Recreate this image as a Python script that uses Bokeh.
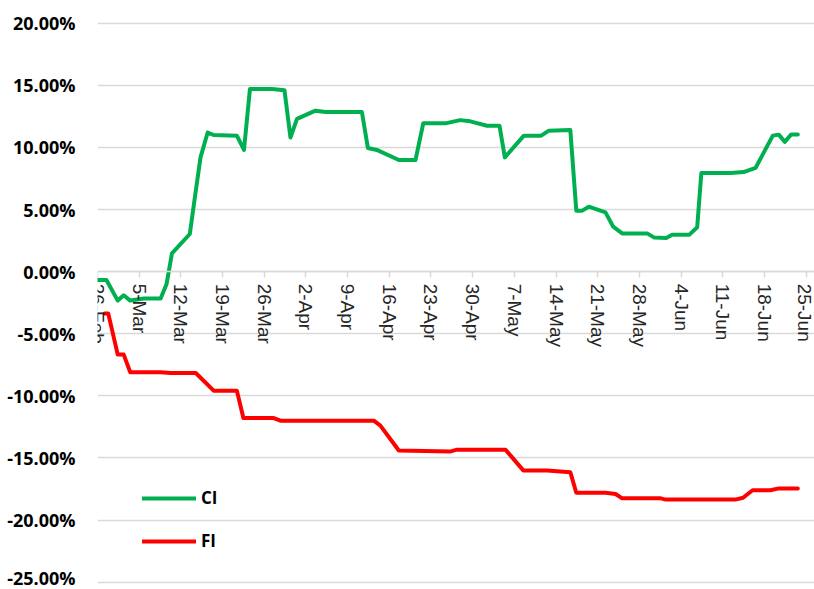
from bokeh.plotting import figure
from bokeh.models import Range1d, FixedTicker, Legend, LegendItem
from bokeh.embed import file_html
from bokeh.resources import INLINE

# ---- data (day offset from 26-Feb, value in %) ----
ci_day = [0, 1.5, 3.4, 4.4, 5.5, 7.8, 10.6, 11.6, 12.5, 15.5, 16.5, 17.3, 18.5, 19.5,
          23.4, 24.6, 25.6, 29.3, 31.4, 32.4, 33.5, 36.6, 38.3, 44.4, 45.4, 46.9,
          50.6, 53.4, 54.7, 58.4, 60.9, 62.6, 65.4, 67.5, 68.4, 71.6, 74.5, 75.8,
          79.4, 80.4, 81.4, 82.5, 85.3, 86.6, 88.1, 92.3, 93.5, 95.5, 96.5, 99.4,
          100.7, 101.4, 106.3, 108.5, 110.5, 113.4, 114.4, 115.4, 116.5, 117.6]
ci_val = [-0.67, -0.67, -2.33, -1.9, -2.33, -2.17, -2.17, -1.0, 1.47, 3.03, 6.5, 9.2, 11.2, 11.0,
          10.95, 9.8, 14.7, 14.7, 14.6, 10.8, 12.3, 12.96, 12.85, 12.85, 9.96, 9.8,
          8.99, 8.99, 11.94, 11.94, 12.2, 12.1, 11.75, 11.75, 9.2, 10.95, 10.95, 11.35,
          11.4, 4.91, 4.91, 5.23, 4.77, 3.62, 3.08, 3.08, 2.74, 2.71, 2.98, 2.98,
          3.57, 7.95, 7.95, 8.02, 8.35, 10.95, 11.03, 10.45, 11.05, 11.05]

fi_day = [1.2, 1.8, 3.4, 4.4, 5.5, 10.6, 12.3, 16.5, 19.5, 23.4, 24.5, 29.5, 30.7, 46.4,
          47.5, 50.6, 59.3, 60.4, 68.5, 71.5, 75.5, 79.4, 80.4, 85.3, 87.0, 88.1,
          94.6, 95.4, 107.1, 108.4, 110.0, 113.0, 114.4, 117.6]
fi_val = [-3.36, -3.36, -6.68, -6.68, -8.1, -8.1, -8.16, -8.16, -9.58, -9.58, -11.78, -11.78, -12.0, -12.0,
          -12.4, -14.4, -14.47, -14.33, -14.33, -16.0, -16.0, -16.15, -17.8, -17.8, -17.9, -18.25,
          -18.25, -18.35, -18.35, -18.2, -17.6, -17.6, -17.45, -17.45]

tick_days = [0, 7, 14, 21, 28, 35, 42, 49, 56, 63, 70, 77, 84, 91, 98, 105, 112, 119]
tick_labels = ["26-Feb", "5-Mar", "12-Mar", "19-Mar", "26-Mar", "2-Apr", "9-Apr", "16-Apr",
               "23-Apr", "30-Apr", "7-May", "14-May", "21-May", "28-May", "4-Jun", "11-Jun",
               "18-Jun", "25-Jun"]
y_ticks = [-25, -20, -15, -10, -5, 0, 5, 10, 15, 20]

# ---- figure ----
p = figure(width=814, height=589, output_backend="svg", toolbar_location=None,
           x_range=Range1d(0, 120.4), y_range=Range1d(-25.59, 21.83),
           min_border_left=97, min_border_right=0, min_border_top=0, min_border_bottom=0)
p.outline_line_color = None
p.background_fill_color = "white"
p.border_fill_color = "white"

# y axis
p.yaxis.ticker = FixedTicker(ticks=y_ticks)
p.yaxis.major_label_overrides = {v: f"{v:.2f}%" for v in y_ticks}
p.yaxis.axis_line_color = None
p.yaxis.major_tick_line_color = None
p.yaxis.minor_tick_line_color = None
p.yaxis.major_label_text_font = "Open Sans"
p.yaxis.major_label_text_font_style = "bold"
p.yaxis.major_label_text_font_size = "18px"
p.yaxis.major_label_text_color = "black"
p.yaxis.major_label_standoff = 16

p.ygrid.ticker = FixedTicker(ticks=y_ticks)
p.ygrid.grid_line_color = "#D9D9D9"
p.ygrid.grid_line_width = 1.5
p.xgrid.grid_line_color = None

# x axis crossing at 0
xa = p.xaxis[0]
xa.fixed_location = 0
xa.ticker = FixedTicker(ticks=tick_days)
xa.major_label_overrides = {d: l for d, l in zip(tick_days, tick_labels)}
xa.major_label_orientation = "vertical"
xa.axis_line_color = "#D9D9D9"
xa.axis_line_width = 1.5
xa.major_tick_line_color = "#D9D9D9"
xa.major_tick_line_width = 1.5
xa.major_tick_out = 6
xa.major_tick_in = 0
xa.minor_tick_line_color = None
xa.major_label_text_font = "Liberation Sans"
xa.major_label_text_font_size = "19px"
xa.major_label_text_color = "#262626"
xa.major_label_standoff = 6

# lines
r_ci = p.line(ci_day, ci_val, line_color="#00B050", line_width=4, line_join="round", line_cap="round")
r_fi = p.line(fi_day, fi_val, line_color="#FF0000", line_width=4, line_join="round", line_cap="round")

legend = Legend(items=[LegendItem(label="CI", renderers=[r_ci]),
                       LegendItem(label="FI", renderers=[r_fi])],
                location=(45, 37), orientation="vertical",
                glyph_width=54, glyph_height=20, label_height=20, spacing=20,
                label_standoff=5, padding=0, margin=0,
                border_line_color=None, background_fill_alpha=0,
                label_text_font="Open Sans", label_text_font_style="bold",
                label_text_font_size="17px", label_text_color="black")
p.add_layout(legend, "center")

open("out.html", "w").write(file_html(p, INLINE))
